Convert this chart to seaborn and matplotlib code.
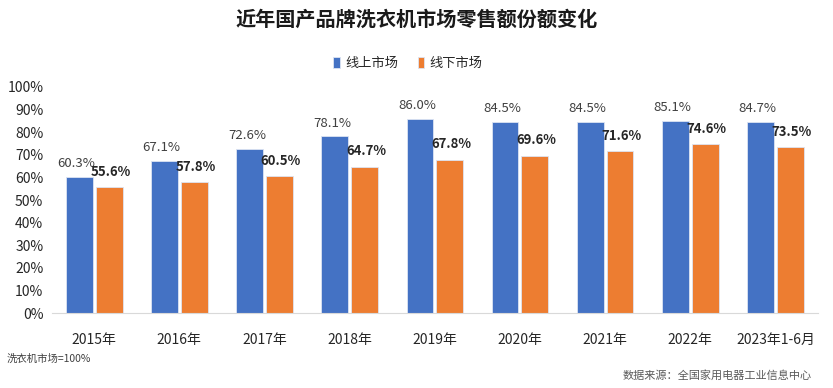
import pandas as pd
import seaborn as sns
import matplotlib.pyplot as plt
from matplotlib.ticker import PercentFormatter

years = ["2015年", "2016年", "2017年", "2018年", "2019年", "2020年", "2021年", "2022年", "2023年1-6月"]
online = [60.3, 67.1, 72.6, 78.1, 86.0, 84.5, 84.5, 85.1, 84.7]
offline = [55.6, 57.8, 60.5, 64.7, 67.8, 69.6, 71.6, 74.6, 73.5]
series = ["线上市场", "线下市场"]

df = pd.DataFrame({
    "year": years * 2,
    "share": online + offline,
    "market": [series[0]] * len(years) + [series[1]] * len(years),
})

sns.set_style("white")
plt.rcParams["font.family"] = ["Noto Sans CJK SC", "DejaVu Sans"]

fig = plt.figure(figsize=(8.33, 3.88), dpi=100)
ax = fig.add_axes([0.062, 0.193, 0.92, 0.583])

sns.barplot(data=df, x="year", y="share", hue="market", hue_order=series,
            palette=["#4472C4", "#ED7D31"], saturation=1, width=0.7, gap=0.1,
            edgecolor="#dce4f2", linewidth=0.6, ax=ax)

ax.set_ylim(0, 100)
ax.set_yticks(range(0, 101, 10))
ax.yaxis.set_major_formatter(PercentFormatter(decimals=0))
ax.set_xlabel("")
ax.set_ylabel("")
for s in ["top", "right", "left"]:
    ax.spines[s].set_visible(False)
ax.spines["bottom"].set_color("#d9d9d9")
ax.tick_params(axis="both", length=0, labelsize=10, colors="#262626")
ax.tick_params(axis="x", pad=14)
ax.tick_params(axis="y", pad=6)

# value labels
for bar, v in zip(ax.containers[0], online):
    ax.annotate(f"{v:.1f}%", (bar.get_x() + bar.get_width() / 2, bar.get_height()),
                xytext=(-2, 5), textcoords="offset points", ha="center", va="bottom",
                fontsize=9.5, color="#404040")
for bar, v in zip(ax.containers[1], offline):
    ax.annotate(f"{v:.1f}%", (bar.get_x() + bar.get_width() / 2, bar.get_height()),
                xytext=(1, 6), textcoords="offset points", ha="center", va="bottom",
                fontsize=9.5, fontweight="bold", color="#262626")

leg = ax.legend(loc="center", bbox_to_anchor=(0.465, 1.105), ncol=2, frameon=False,
                fontsize=9.5, handlelength=0.5, handleheight=0.9, columnspacing=1.5,
                handletextpad=0.4)

fig.text(0.5, 0.95, "近年国产品牌洗衣机市场零售额份额变化", ha="center", va="center",
         fontsize=14.5, fontweight="bold", color="#1a1a1a")
fig.text(0.008, 0.075, "洗衣机市场=100%", ha="left", va="center", fontsize=7.5, color="#404040")
fig.text(0.975, 0.033, "数据来源：全国家用电器工业信息中心", ha="right", va="center",
         fontsize=8, color="#595959")

fig.savefig("out.png", dpi=100)
